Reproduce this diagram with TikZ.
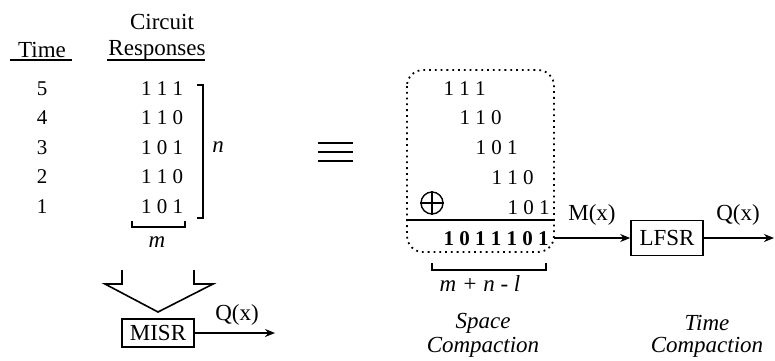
\documentclass[tikz,border=0pt]{standalone}
\usepackage{fontspec}
\setmainfont{Liberation Serif}
\usetikzlibrary{arrows.meta}
\newcommand\figfont{\fontsize{11.5}{13.8}\selectfont}
\newcommand\digfont{\fontsize{10.5}{12.6}\selectfont}
\tikzset{
  reg/.style={draw,line width=0.8pt,minimum width=36pt,minimum height=15pt,inner sep=2pt},
  flow/.style={line width=0.8pt,-{Stealth[length=5pt,width=4pt]}},
  brace/.style={line width=0.8pt},
  bits/.style={font=\digfont},
}
\begin{document}
\begin{tikzpicture}[x=0.5pt,y=-0.5pt,font=\figfont]
  \useasboundingbox (0,0) rectangle (775,360);
  % responses over time
  \node (time) at (42,50) {Time};
  \node (circ) at (162,22) {Circuit};
  \node (resp) at (157,50) {Responses};
  \draw[brace] (10,60) -- (72,60);
  \draw[brace] (107,60) -- (205,60);
  \foreach \t/\r/\y in {5/1 1 1/89, 4/1 1 0/118, 3/1 0 1/148, 2/1 1 0/177, 1/1 0 1/207} {
    \node[bits] (t\t) at (42,\y) {\t};
    \node[bits] (r\t) at (162,\y) {\r};
  }
  \draw[brace] (197,85) -- (203,85) -- (203,218) -- (197,218);
  \node (n) at (218,147) {\textit{n}};
  \draw[brace] (132,221) |- (185,227) -- (185,221);
  \node (m) at (157,242) {\textit{m}};
  % hollow arrow into the MISR
  \draw[brace] (122,270) -- (122,284) -- (105,284) -- (158,312)
    -- (213,284) -- (194,284) -- (194,270);
  \node[reg,minimum height=14pt] (misr) at (158,333) {MISR};
  \coordinate (qout1) at (275,333);
  \draw[flow] (misr) -- (qout1);
  \node (q1) at (237,315) {Q(x)};
  % equivalence sign
  \foreach \y in {143,152,161}
    \draw[line width=1.2pt] (318,\y) -- (353,\y);
  % space compaction
  \draw[dotted,line width=0.9pt,rounded corners=8pt] (407,70) rectangle (554,252);
  \foreach \k/\b/\y in {0/1 1 1/89, 1/1 1 0/118, 2/1 0 1/148, 3/1 1 0/178, 4/1 0 1/208}
    \node[bits,anchor=east,inner sep=0pt] (s\k) at (486+16*\k,\y) {\b};
  \node[draw,circle,minimum size=11pt,inner sep=0pt,line width=0.7pt] (xor) at (432,203) {};
  \draw[line width=0.7pt] (xor.north) -- (xor.south) (xor.west) -- (xor.east);
  \draw[brace] (406,220) -- (555,220);
  \node[anchor=east,inner sep=0pt,font=\digfont\bfseries] (res) at (549,239) {1 0 1 1 1 0 1};
  \draw[brace] (432,263) |- (546,270) -- (546,263);
  \node (len) at (480,284) {\textit{m + n - l}};
  % time compaction
  \coordinate (sumout) at (554,238);
  \node[reg,minimum height=17.5pt] (lfsr) at (667,238) {LFSR};
  \draw[flow] (sumout) -- (lfsr);
  \node (mx) at (592,215) {M(x)};
  \coordinate (qout2) at (774,238);
  \draw[flow] (lfsr) -- (qout2);
  \node (q2) at (738,215) {Q(x)};
  \node (sp1) at (483,323) {\textit{Space}};
  \node (sp2) at (483,347) {\textit{Compaction}};
  \node (tm1) at (707,323) {\textit{Time}};
  \node (tm2) at (707,347) {\textit{Compaction}};
\end{tikzpicture}
\end{document}
